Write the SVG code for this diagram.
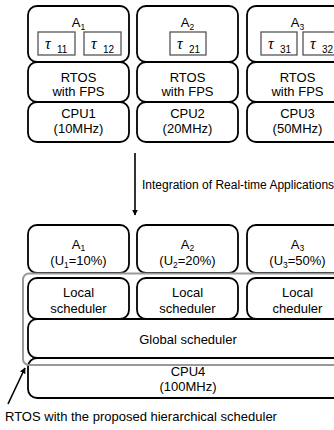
<svg xmlns="http://www.w3.org/2000/svg" width="334" height="430" viewBox="0 0 334 430">
<style>
.box{fill:#fff;stroke:#000;stroke-width:1.8}
.task{fill:#fff;stroke:#555;stroke-width:1.3}
.frame{fill:none;stroke:#999;stroke-width:2}
text{font-family:"Liberation Sans",Arial,sans-serif;font-size:13px;fill:#000}
.c{text-anchor:middle}
.tau{font-family:"Liberation Serif","Times New Roman",serif;font-style:italic;font-size:16px}
.sub{font-size:8.5px}
.tsub{font-size:10px}
.lbl{font-size:12px}
.conn{stroke:#000;stroke-width:1.6;fill:none}
</style>
<defs>
<marker id="ah" viewBox="0 0 10 10" refX="9" refY="5" markerWidth="6" markerHeight="6" orient="auto" markerUnits="userSpaceOnUse">
<path d="M0,0 L10,5 L0,10 z" fill="#000"/>
</marker>
</defs>

<!-- Top section -->
<g id="app1">
<rect class="box" x="28" y="6" width="101" height="56" rx="9"/>
<text class="c" x="78.5" y="27">A<tspan class="sub" dy="3">1</tspan></text>
<rect class="task" x="38" y="32" width="37" height="23"/>
<text x="45" y="49" class="tau">τ</text><text x="57" y="53" class="tsub">11</text>
<rect class="task" x="84" y="32" width="37" height="23"/>
<text x="91" y="49" class="tau">τ</text><text x="103" y="53" class="tsub">12</text>
</g>
<g id="rtos1">
<rect class="box" x="28" y="62" width="101" height="40" rx="9"/>
<text class="c" x="78.5" y="82">RTOS</text>
<text class="c" x="78.5" y="96">with FPS</text>
</g>
<g id="cpu1">
<rect class="box" x="28" y="102" width="101" height="40" rx="9"/>
<text class="c" x="78.5" y="118">CPU1</text>
<text class="c" x="78.5" y="133">(10MHz)</text>
</g>

<g id="app2">
<rect class="box" x="137" y="6" width="101" height="56" rx="9"/>
<text class="c" x="187.5" y="27">A<tspan class="sub" dy="3">2</tspan></text>
<rect class="task" x="170" y="32" width="36" height="23"/>
<text x="177" y="49" class="tau">τ</text><text x="189" y="53" class="tsub">21</text>
</g>
<g id="rtos2">
<rect class="box" x="137" y="62" width="101" height="40" rx="9"/>
<text class="c" x="187.5" y="82">RTOS</text>
<text class="c" x="187.5" y="96">with FPS</text>
</g>
<g id="cpu2">
<rect class="box" x="137" y="102" width="101" height="40" rx="9"/>
<text class="c" x="187.5" y="118">CPU2</text>
<text class="c" x="187.5" y="133">(20MHz)</text>
</g>

<g id="app3">
<rect class="box" x="247" y="6" width="101" height="56" rx="9"/>
<text class="c" x="297.5" y="27">A<tspan class="sub" dy="3">3</tspan></text>
<rect class="task" x="261" y="32" width="36" height="23"/>
<text x="268" y="49" class="tau">τ</text><text x="280" y="53" class="tsub">31</text>
<rect class="task" x="303" y="32" width="36" height="23"/>
<text x="310" y="49" class="tau">τ</text><text x="322" y="53" class="tsub">32</text>
</g>
<g id="rtos3">
<rect class="box" x="247" y="62" width="101" height="40" rx="9"/>
<text class="c" x="297.5" y="82">RTOS</text>
<text class="c" x="297.5" y="96">with FPS</text>
</g>
<g id="cpu3">
<rect class="box" x="247" y="102" width="101" height="40" rx="9"/>
<text class="c" x="297.5" y="118">CPU3</text>
<text class="c" x="297.5" y="133">(50MHz)</text>
</g>

<!-- Bottom section -->
<g id="appB1">
<rect class="box" x="28" y="225" width="101" height="48" rx="9"/>
<text class="c" x="78.5" y="249">A<tspan class="sub" dy="2">1</tspan></text>
<text class="c" x="78.5" y="265">(U<tspan class="sub" dy="2.5">1</tspan><tspan dy="-2.5">=10%)</tspan></text>
</g>
<g id="appB2">
<rect class="box" x="137" y="225" width="101" height="48" rx="9"/>
<text class="c" x="187.5" y="249">A<tspan class="sub" dy="2">2</tspan></text>
<text class="c" x="187.5" y="265">(U<tspan class="sub" dy="2.5">2</tspan><tspan dy="-2.5">=20%)</tspan></text>
</g>
<g id="appB3">
<rect class="box" x="247" y="225" width="101" height="48" rx="9"/>
<text class="c" x="297.5" y="249">A<tspan class="sub" dy="2">3</tspan></text>
<text class="c" x="297.5" y="265">(U<tspan class="sub" dy="2.5">3</tspan><tspan dy="-2.5">=50%)</tspan></text>
</g>
<g id="local1">
<rect class="box" x="28" y="278" width="101" height="41" rx="9"/>
<text class="c" x="78.5" y="297">Local</text>
<text class="c" x="78.5" y="313">scheduler</text>
</g>
<g id="local2">
<rect class="box" x="137" y="278" width="101" height="41" rx="9"/>
<text class="c" x="187.5" y="297">Local</text>
<text class="c" x="187.5" y="313">scheduler</text>
</g>
<g id="local3">
<rect class="box" x="247" y="278" width="101" height="41" rx="9"/>
<text class="c" x="297.5" y="297">Local</text>
<text class="c" x="297.5" y="313">cheduler</text>
</g>
<g id="global">
<rect class="box" x="28" y="319" width="320" height="39" rx="9"/>
<text class="c" x="188" y="344">Global scheduler</text>
</g>
<g id="cpu4">
<rect class="box" x="28" y="358" width="320" height="40" rx="9"/>
<text class="c" x="188" y="376">CPU4</text>
<text class="c" x="188" y="391">(100MHz)</text>
</g>
<g id="rtosFrame">
<rect class="frame" x="23" y="273.5" width="322" height="91.5" rx="6"/>
</g>

<g id="connectors">
<line class="conn" x1="135" y1="153" x2="135" y2="215" marker-end="url(#ah)"/>
<line class="conn" x1="8" y1="404" x2="25" y2="368" marker-end="url(#ah)"/>
</g>
<g id="labels">
<text x="142" y="189" class="lbl">Integration of Real-time Applications</text>
<text x="5" y="421">RTOS with the proposed hierarchical scheduler</text>
</g>
</svg>
